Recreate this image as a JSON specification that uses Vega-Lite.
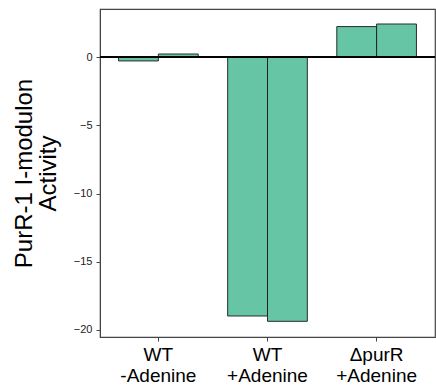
{
  "$schema": "https://vega.github.io/schema/vega-lite/v6.json",
  "width": 335,
  "height": 328,
  "autosize": {"type": "none"},
  "padding": {"left": 100, "top": 9, "right": 1, "bottom": 54},
  "config": {
    "font": "Liberation Sans",
    "view": {"stroke": "#444444", "strokeWidth": 1.2},
    "axis": {"grid": false, "domainColor": "#444444", "tickColor": "#444444", "labelColor": "#222222", "titleColor": "#000000"}
  },
  "data": {
    "values": [
      {"group": "WT|-Adenine", "rep": "1", "activity": -0.27},
      {"group": "WT|-Adenine", "rep": "2", "activity": 0.24},
      {"group": "WT|+Adenine", "rep": "1", "activity": -18.98},
      {"group": "WT|+Adenine", "rep": "2", "activity": -19.37},
      {"group": "ΔpurR|+Adenine", "rep": "1", "activity": 2.25},
      {"group": "ΔpurR|+Adenine", "rep": "2", "activity": 2.44}
    ]
  },
  "layer": [
    {
      "mark": {"type": "bar", "color": "#66c5a5", "stroke": "#1a1a1a", "strokeWidth": 0.9},
      "encoding": {
        "x": {
          "field": "group", "type": "nominal", "sort": null,
          "scale": {"paddingInner": 0.27, "paddingOuter": 0.17},
          "axis": {"title": null, "labelAngle": 0, "labelExpr": "split(datum.value, '|')", "labelFontSize": 19, "labelColor": "#000000", "labelLineHeight": 21, "tickSize": 4, "labelPadding": 4}
        },
        "xOffset": {"field": "rep", "type": "nominal", "scale": {"paddingInner": 0, "paddingOuter": 0}},
        "y": {
          "field": "activity", "type": "quantitative",
          "scale": {"domain": [-20.52, 3.54], "nice": false, "zero": false},
          "axis": {"values": [-20, -15, -10, -5, 0], "title": ["PurR-1 I-modulon", "Activity"], "titleFontSize": 24, "titleFontWeight": "normal", "titleLineHeight": 24, "titlePadding": 13, "labelFontSize": 11, "tickSize": 4, "labelPadding": 4}
        }
      }
    },
    {
      "mark": {"type": "rule", "color": "#000000", "strokeWidth": 1.6},
      "encoding": {"y": {"datum": 0}}
    }
  ]
}
